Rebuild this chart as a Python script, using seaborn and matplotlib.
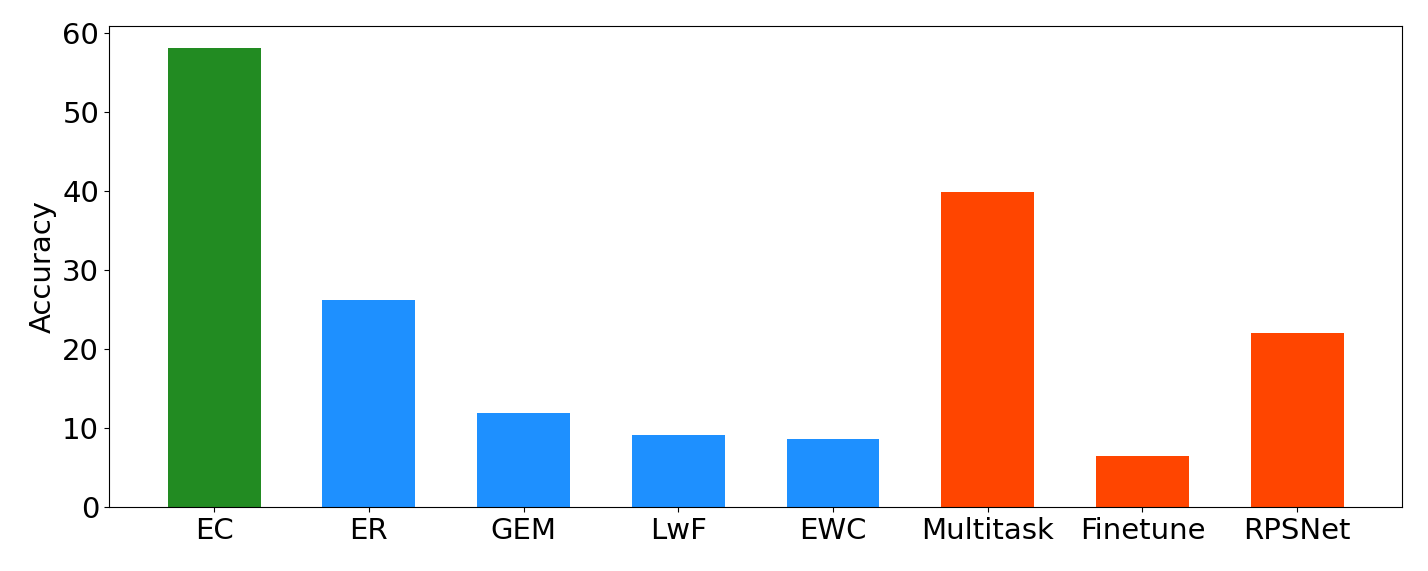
import matplotlib
matplotlib.use("Agg")
import matplotlib.pyplot as plt
import seaborn as sns
import pandas as pd

methods = ["EC", "ER", "GEM", "LwF", "EWC", "Multitask", "Finetune", "RPSNet"]
accuracy = [58.1, 26.2, 11.9, 9.1, 8.6, 39.9, 6.5, 22.0]
group = ["ours", "replay", "replay", "replay", "replay", "base", "base", "base"]
palette = {"ours": "forestgreen", "replay": "dodgerblue", "base": "orangered"}

df = pd.DataFrame({"method": methods, "acc": accuracy, "group": group})

plt.rcParams["font.family"] = ["DejaVu Sans"]
plt.rcParams["font.size"] = 21

fig, ax = plt.subplots(figsize=(14.28, 5.71), dpi=100)
sns.barplot(data=df, x="method", y="acc", hue="group", palette=palette,
            width=0.6, dodge=False, legend=False, saturation=1, ax=ax)
ax.set_xlim(-0.68, 7.68)
ax.set_ylim(0, 60.9)
ax.set_yticks([0, 10, 20, 30, 40, 50, 60])
ax.set_xlabel("")
ax.set_ylabel("Accuracy")
ax.tick_params(labelsize=21)
plt.subplots_adjust(left=0.0763, right=0.982, top=0.954, bottom=0.112)
plt.savefig("out.png")
